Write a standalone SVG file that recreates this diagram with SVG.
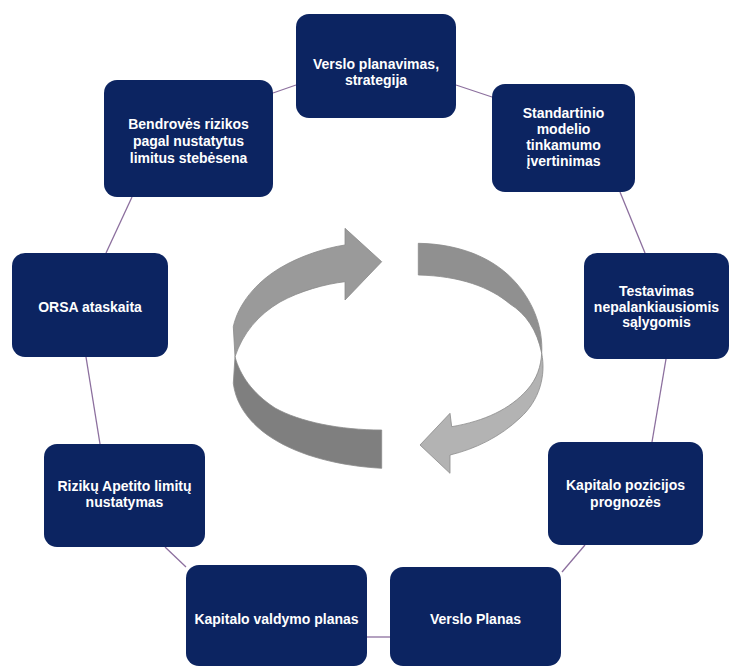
<svg xmlns="http://www.w3.org/2000/svg" width="730" height="668" viewBox="0 0 730 668">
<style>
.box{fill:#0c2461;}
.t{font-family:"Liberation Sans",Arial,sans-serif;font-weight:bold;font-size:14px;fill:#ffffff;text-anchor:middle;}
.c{stroke:#8c6f9e;stroke-width:1.3;fill:none;}
.ar{stroke:#8a8a8a;stroke-width:0.8;}
</style>
<rect width="730" height="668" fill="#ffffff"/>
<g id="connectors">
<line class="c" x1="273" y1="93" x2="296" y2="85"/>
<line class="c" x1="456" y1="85" x2="492" y2="97"/>
<line class="c" x1="620" y1="192" x2="645" y2="253"/>
<line class="c" x1="666" y1="359" x2="652" y2="442"/>
<line class="c" x1="585" y1="545" x2="562" y2="572"/>
<line class="c" x1="367" y1="637" x2="390" y2="637"/>
<line class="c" x1="165" y1="547" x2="186" y2="567"/>
<line class="c" x1="86" y1="357" x2="100" y2="444"/>
<line class="c" x1="132" y1="197" x2="106" y2="253"/>
</g>
<g id="cycle-arrows">
<path class="ar" fill="#9a9a9a" d="M233.3,326.7 C238,305 255,283 280,268 C300,256 325,248 345,245 L345,228.3 L381.7,261.7 L345,300 L345,281.7 C325,284 300,291 280,302 C258,315 243,333 235,356.7 Z"/>
<path class="ar" fill="#7f7f7f" d="M235,356.7 C240,375 252,393 275,408 C300,422 340,430 381.7,430 L381.7,468.3 C340,466 300,456 272,438 C250,424 236,405 233.3,383.3 Z"/>
<path class="ar" fill="#909090" d="M418.3,243.3 C460,244 495,258 517,284 C535,305 543,330 541.7,353.3 C537,330 526,314 510,304 C490,287 460,276 418.3,275 Z"/>
<path class="ar" fill="#b3b3b3" d="M541.7,353.3 C546,375 540,400 520,418 C500,437 475,449 450,455 L450,473.3 L420,445 L450,413.3 L451.7,426.7 C485,421 510,409 527,390 C537,379 541,366 541.7,353.3 Z"/>
</g>
<g id="n1"><rect class="box" x="296" y="14" width="160" height="104" rx="13"/><text class="t" x="376" y="69">Verslo planavimas,</text><text class="t" x="376" y="85">strategija</text></g>
<g id="n2"><rect class="box" x="492" y="84" width="143" height="108" rx="13"/><text class="t" x="563.5" y="118">Standartinio</text><text class="t" x="563.5" y="134">modelio</text><text class="t" x="563.5" y="150">tinkamumo</text><text class="t" x="563.5" y="166">įvertinimas</text></g>
<g id="n3"><rect class="box" x="584" y="253" width="145" height="106" rx="13"/><text class="t" x="656.5" y="296">Testavimas</text><text class="t" x="656.5" y="312">nepalankiausiomis</text><text class="t" x="656.5" y="327">sąlygomis</text></g>
<g id="n4"><rect class="box" x="548" y="442" width="155" height="103" rx="13"/><text class="t" x="625.5" y="490">Kapitalo pozicijos</text><text class="t" x="625.5" y="507">prognozės</text></g>
<g id="n5"><rect class="box" x="390" y="567" width="171" height="99" rx="13"/><text class="t" x="475.5" y="624">Verslo Planas</text></g>
<g id="n6"><rect class="box" x="186" y="565" width="181" height="101" rx="13"/><text class="t" x="276.5" y="624">Kapitalo valdymo planas</text></g>
<g id="n7"><rect class="box" x="44" y="444" width="161" height="103" rx="13"/><text class="t" x="124.5" y="491">Rizikų Apetito limitų</text><text class="t" x="124.5" y="507">nustatymas</text></g>
<g id="n8"><rect class="box" x="12" y="253" width="156" height="104" rx="13"/><text class="t" x="90" y="312">ORSA ataskaita</text></g>
<g id="n9"><rect class="box" x="104" y="80" width="169" height="117" rx="13"/><text class="t" x="188.5" y="129">Bendrovės rizikos</text><text class="t" x="188.5" y="146">pagal nustatytus</text><text class="t" x="188.5" y="163">limitus stebėsena</text></g>
</svg>
